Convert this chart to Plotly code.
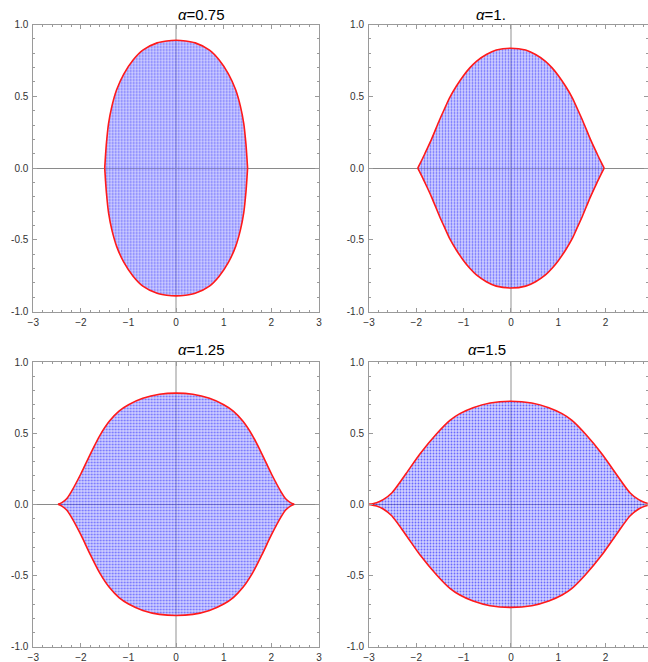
import plotly.graph_objects as go
from plotly.subplots import make_subplots

# panel titles
alphas = ["0.75", "1.", "1.25", "1.5"]

# boundary curves (upper and lower halves)
x_a075 = [-1.5, -1.485, -1.465, -1.42, -1.35, -1.25, -1.1, -0.9, -0.7, -0.4, -0.2, 0.0,
          0.2, 0.4, 0.7, 0.9, 1.1, 1.25, 1.35, 1.42, 1.465, 1.485, 1.5]
top_a075 = [0.0, 0.08, 0.17, 0.31, 0.43, 0.545, 0.655, 0.755, 0.822, 0.872, 0.885, 0.89,
            0.885, 0.872, 0.822, 0.755, 0.655, 0.545, 0.43, 0.31, 0.17, 0.08, 0.0]
bot_a075 = [-0.0, -0.08, -0.17, -0.31, -0.43, -0.545, -0.655, -0.755, -0.822, -0.872, -0.885, -0.89,
            -0.885, -0.872, -0.822, -0.755, -0.655, -0.545, -0.43, -0.31, -0.17, -0.08, -0.0]

x_a100 = [-1.97, -1.9, -1.82, -1.68, -1.51, -1.38, -1.3, -1.155, -1.0, -0.87, -0.73, -0.52, -0.31, 0.0,
          0.31, 0.52, 0.73, 0.87, 1.0, 1.155, 1.3, 1.38, 1.51, 1.68, 1.82, 1.9, 1.97]
top_a100 = [0.0, 0.045, 0.10, 0.20, 0.335, 0.43, 0.488, 0.57, 0.645, 0.698, 0.744, 0.791, 0.822, 0.835,
            0.822, 0.791, 0.744, 0.698, 0.645, 0.57, 0.488, 0.43, 0.335, 0.20, 0.10, 0.045, 0.0]
bot_a100 = [-0.0, -0.045, -0.10, -0.20, -0.335, -0.43, -0.488, -0.57, -0.645, -0.698, -0.744, -0.791, -0.822, -0.835,
            -0.822, -0.791, -0.744, -0.698, -0.645, -0.57, -0.488, -0.43, -0.335, -0.20, -0.10, -0.045, -0.0]

x_a125 = [-2.48, -2.4, -2.3, -2.2, -2.0, -1.8, -1.6, -1.4, -1.2, -1.0, -0.7, -0.35, 0.0,
          0.35, 0.7, 1.0, 1.2, 1.4, 1.6, 1.8, 2.0, 2.2, 2.3, 2.4, 2.48]
top_a125 = [0.0, 0.012, 0.04, 0.09, 0.215, 0.355, 0.485, 0.585, 0.655, 0.70, 0.745, 0.773, 0.781,
            0.773, 0.745, 0.70, 0.655, 0.585, 0.485, 0.355, 0.215, 0.09, 0.04, 0.012, 0.0]
bot_a125 = [-0.0, -0.012, -0.04, -0.09, -0.215, -0.355, -0.485, -0.585, -0.655, -0.70, -0.745, -0.773, -0.781,
            -0.773, -0.745, -0.70, -0.655, -0.585, -0.485, -0.355, -0.215, -0.09, -0.04, -0.012, -0.0]

x_a150 = [-3.0, -2.84, -2.7, -2.52, -2.22, -1.92, -1.57, -1.29, -1.08, -0.8, -0.44, 0.0,
          0.44, 0.8, 1.08, 1.29, 1.57, 1.92, 2.22, 2.52, 2.7, 2.84, 3.0]
top_a150 = [0.0, 0.012, 0.033, 0.08, 0.215, 0.356, 0.496, 0.59, 0.637, 0.679, 0.712, 0.724,
            0.712, 0.679, 0.637, 0.59, 0.496, 0.356, 0.215, 0.08, 0.033, 0.012, 0.0]
bot_a150 = [-0.0, -0.012, -0.033, -0.08, -0.215, -0.356, -0.496, -0.59, -0.637, -0.679, -0.712, -0.724,
            -0.712, -0.679, -0.637, -0.59, -0.496, -0.356, -0.215, -0.08, -0.033, -0.012, -0.0]

panels = [(x_a075, top_a075, bot_a075), (x_a100, top_a100, bot_a100),
          (x_a125, top_a125, bot_a125), (x_a150, top_a150, bot_a150)]

# axis ranges and tick labels
x_ranges = [[-3, 3], [-3, 2.89], [-3, 3], [-3, 2.89]]
x_ticks = [-3, -2, -1, 0, 1, 2, 3]
y_ticks = [-1.0, -0.5, 0.0, 0.5, 1.0]
y_labels = ["-1.0", "-0.5", "0.0", "0.5", "1.0"]

W, H = 648, 662
x_doms = [[33.3 / W, 319 / W], [369 / W, 647.7 / W]]
y_doms = [[1 - 311.7 / H, 1 - 24.5 / H], [1 - 646.7 / H, 1 - 362 / H]]
title_y = [1 - 15 / H, 1 - 349 / H]

fig = make_subplots(rows=2, cols=2)

for i, (xs, top, bot) in enumerate(panels):
    r, c = i // 2 + 1, i % 2 + 1
    # dotted fill standing in for the sampled points
    fig.add_trace(go.Scatter(x=xs + xs[::-1], y=top + bot[::-1], mode="lines",
                             line=dict(width=0, shape="spline", smoothing=0.8), fill="toself",
                             fillcolor="rgba(150,150,255,0.45)",
                             fillpattern=dict(shape=".", fgcolor="#0000ff", bgcolor="rgba(150,150,255,0.45)",
                                              size=3, solidity=0.3),
                             hoverinfo="skip", showlegend=False), row=r, col=c)
    for ys in (top, bot):
        fig.add_trace(go.Scatter(x=xs, y=ys, mode="lines",
                                 line=dict(color="#ff1a1a", width=1.6, shape="spline", smoothing=0.8),
                                 showlegend=False), row=r, col=c)

    fig.update_xaxes(domain=x_doms[c - 1], range=x_ranges[i], tickvals=x_ticks,
                     row=r, col=c)
    fig.update_yaxes(domain=y_doms[r - 1], range=[-1, 1], tickvals=y_ticks, ticktext=y_labels,
                     row=r, col=c)
    fig.add_annotation(text="<i>α</i>=" + alphas[i], x=sum(x_doms[c - 1]) / 2, y=title_y[r - 1],
                       xref="paper", yref="paper", showarrow=False, yanchor="middle",
                       font=dict(size=15, color="black"))

fig.update_xaxes(showgrid=False, showline=True, linecolor="#9a9a9a", linewidth=1, mirror="ticks",
                 ticks="inside", ticklen=4, tickcolor="#9a9a9a",
                 minor=dict(dtick=0.2, ticks="inside", ticklen=2, tickcolor="#9a9a9a"),
                 zeroline=True, zerolinecolor="#c8c8c8", zerolinewidth=2, automargin=False,
                 tickfont=dict(size=10, color="#333"), ticklabelstandoff=1)
fig.update_yaxes(showgrid=False, showline=True, linecolor="#9a9a9a", linewidth=1, mirror="ticks",
                 ticks="inside", ticklen=4, tickcolor="#9a9a9a",
                 minor=dict(dtick=0.1, ticks="inside", ticklen=2, tickcolor="#9a9a9a"),
                 zeroline=True, zerolinecolor="#8a8a8a", zerolinewidth=1, automargin=False,
                 tickfont=dict(size=10, color="#333"), ticklabelstandoff=2)

fig.update_layout(width=W, height=H, margin=dict(l=0, r=0, t=0, b=0, autoexpand=False),
                  plot_bgcolor="white", paper_bgcolor="white",
                  font=dict(family="Liberation Sans, Arial, sans-serif"))

# drop the default page margin so the figure sits flush in the window
fig.write_html("out.html", config={"displayModeBar": False},
               post_script="document.body.style.margin='0';")
